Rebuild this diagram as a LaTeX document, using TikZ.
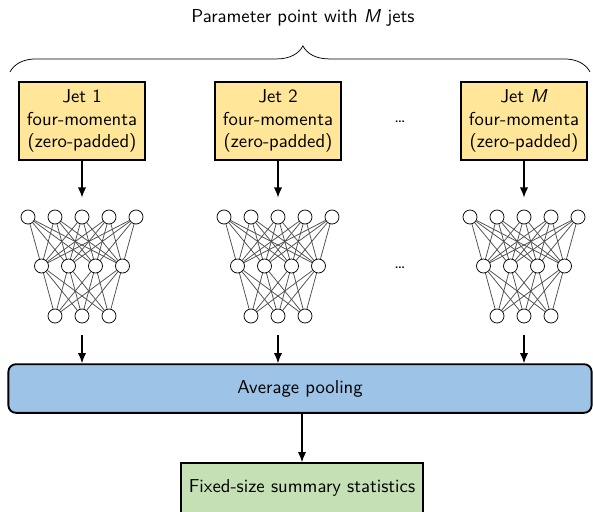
\documentclass[tikz,border=0pt]{standalone}
\usetikzlibrary{arrows.meta,decorations.pathreplacing}
\begin{document}
\begin{tikzpicture}[x=0.535pt, y=-0.535pt, font=\sffamily]
    \definecolor{jetColour}{HTML}{FFE699}
    \definecolor{poolColour}{HTML}{9DC3E6}
    \definecolor{statsColour}{HTML}{C5E0B4}

    \tikzset{
        jetbox/.style={draw, line width=1pt, fill=jetColour, align=center, minimum width=67pt, minimum height=42pt, inner sep=1pt},
        neuron/.style={circle, draw, thin, fill=white, minimum size=7.5pt, inner sep=0pt},
        link/.style={draw=black!70, line width=0.4pt},
        arr/.style={-{Latex[length=5.5pt, width=4.5pt]}, thick}
    }

    \useasboundingbox (0,0) rectangle (593,511);

    % Title and brace
    \node (title) at (303,18) {Parameter point with \textsl{M} jets};
    \draw[decorate, decoration={brace, amplitude=14pt, aspect=0.505}] (10,72) -- (590,72);

    % Jet boxes
    \foreach \i/\x/\lab in {1/82/1, 2/278/2, M/524/\textsl{M}}
        \node[jetbox] (jet\i) at (\x,121) {Jet \lab\\four-momenta\\(zero-padded)};
    \node (dotsJet) at (400,122) {\dots};

    % Networks: 5 - 4 - 3 neurons
    \foreach \i/\c in {1/82, 2/278, M/524} {
        \foreach \k in {1,...,5}
            \node[neuron] (n\i a\k) at (\c-81+27*\k, 217) {};
        \foreach \k in {1,...,4}
            \node[neuron] (n\i b\k) at (\c-67.5+27*\k, 266) {};
        \foreach \k in {1,...,3}
            \node[neuron] (n\i c\k) at (\c-54+27*\k, 316) {};
        \foreach \k in {1,...,5}
            \foreach \l in {1,...,4}
                \draw[link] (n\i a\k) -- (n\i b\l);
        \foreach \k in {1,...,4}
            \foreach \l in {1,...,3}
                \draw[link] (n\i b\k) -- (n\i c\l);
    }
    \node (dotsNet) at (400,268) {\dots};

    % Pooling and output
    \node[draw, line width=1pt, fill=poolColour, rounded corners=4pt, minimum width=312pt, minimum height=26pt] (pool) at (300,388.5) {Average pooling};
    \node[draw, line width=1pt, fill=statsColour, minimum width=129.5pt, minimum height=26.5pt] (stats) at (302,488) {Fixed-size summary statistics};

    % Arrows
    \foreach \i in {1,2,M} {
        \draw[arr, shorten >=6.4pt] (jet\i) -- (n\i a3);
        \draw[arr, shorten <=6.4pt] (n\i c2) -- (n\i c2 |- pool.north);
    }
    \draw[arr] (pool.south -| stats) -- (stats);

\end{tikzpicture}
\end{document}
